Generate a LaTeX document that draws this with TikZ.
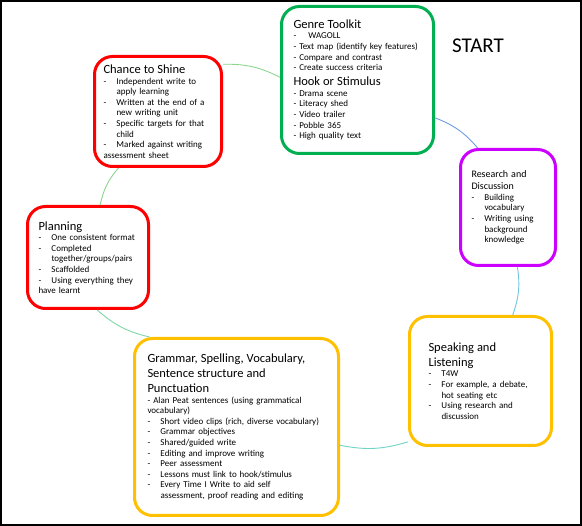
\documentclass[tikz,border=0pt]{standalone}
\usepackage{fontspec}
\setmainfont{Carlito}
\usetikzlibrary{positioning}

\definecolor{kgreen}{HTML}{00B050}
\definecolor{kred}{HTML}{FF0000}
\definecolor{kmagenta}{HTML}{CC00FF}
\definecolor{korange}{HTML}{FFC000}
\definecolor{cgreen}{HTML}{8ED48E}
\definecolor{cmint}{HTML}{7ED6A6}
\definecolor{cteal}{HTML}{6FD3C4}
\definecolor{ccyan}{HTML}{72C6E4}
\definecolor{cblue}{HTML}{6C9BE2}

%% one line of a box, and a bullet line with hanging indent
\newcommand{\pl}[1]{\par\noindent #1\par}
\newcommand{\itm}[1]{\par\hangindent=13pt\hangafter=1\noindent\makebox[13pt][l]{-}#1\par}
%% box headings
\newcommand{\ttl}[1]{{\fontsize{12.5}{15}\selectfont #1\par}}
\newcommand{\sttl}[1]{{\fontsize{10}{12}\selectfont #1\par}}

\begin{document}
\begin{tikzpicture}[
  x=1pt, y=-1pt,
  stage/.style={draw, line width=3pt, fill=white, rounded corners=18pt,
                align=left, inner ysep=0pt,
                font=\fontsize{9}{10.6}\selectfont},
  link/.style={line width=0.9pt, bend left=14},
]
  \useasboundingbox (0,0) rectangle (582,526);
  \draw[line width=2pt] (1,1) rectangle (581,525);

  %% Stage boxes
  \node[stage, draw=kgreen, minimum width=152pt, minimum height=147pt,
        text width=128pt, inner xsep=12pt] (genre) at (357.5,80) {%
    \ttl{Genre Toolkit}
    \itm{\hspace*{2pt}WAGOLL}
    \pl{- Text map (identify key features)}
    \pl{- Compare and contrast}
    \pl{- Create success criteria}
    \ttl{Hook or Stimulus}
    \pl{- Drama scene}
    \pl{- Literacy shed}
    \pl{- Video trailer}
    \pl{- Pobble 365}
    \pl{- High quality text}};

  \node[stage, draw=kred, minimum width=127pt, minimum height=110pt,
        text width=109pt, inner xsep=9pt] (chance) at (158,111.5) {%
    \ttl{Chance to Shine}
    \itm{Independent write to\newline apply learning}
    \itm{Written at the end of a\newline new writing unit}
    \itm{Specific targets for that\newline child}
    \itm{Marked against writing}
    \pl{assessment sheet}};

  \node[stage, draw=kred, minimum width=121pt, minimum height=102pt,
        text width=99pt, inner xsep=11pt] (planning) at (88,257.5) {%
    \ttl{Planning}
    \itm{One consistent format}
    \itm{Completed\newline together/groups/pairs}
    \itm{Scaffolded}
    \itm{Using everything they}
    \pl{have learnt}};

  \node[stage, draw=kmagenta, minimum width=95pt, minimum height=116pt,
        text width=73pt, inner xsep=11pt] (research) at (508,207.5) {%
    \sttl{Research and\\Discussion}
    \itm{Building\newline vocabulary}
    \itm{Writing using\newline background\newline knowledge}};

  \node[stage, draw=korange, minimum width=142pt, minimum height=129pt,
        text width=104pt, inner xsep=19pt] (speaking) at (480.5,381) {%
    \ttl{Speaking and\\Listening}
    \itm{T4W}
    \itm{For example, a debate,\newline hot seating etc}
    \itm{Using research and\newline discussion}};

  \node[stage, draw=korange, minimum width=204pt, minimum height=177pt,
        text width=178pt, inner xsep=13pt] (grammar) at (236.5,427) {%
    \ttl{Grammar, Spelling, Vocabulary,\\Sentence structure and\\Punctuation}
    \pl{- Alan Peat sentences (using grammatical\\vocabulary)}
    \itm{Short video clips (rich, diverse vocabulary)}
    \itm{Grammar objectives}
    \itm{Shared/guided write}
    \itm{Editing and improve writing}
    \itm{Peer assessment}
    \itm{Lessons must link to hook/stimulus}
    \itm{Every Time I Write to aid self\newline assessment, proof reading and editing}};

  \node[font=\fontsize{21}{21}\selectfont] (start) at (478,46) {START};

  %% Cycle arcs
  \draw[link, cblue] (genre.-26) to (research.117);
  \draw[link, ccyan] (research.-81) to (speaking.64);
  \draw[link, cteal] (speaking.220) to (grammar.-10);
  \draw[link, cmint] (grammar.134) to (planning.-80);
  \draw[link, cgreen] (planning.77) to (chance.235);
  \draw[link, cgreen] (chance.36) to (genre.178);
\end{tikzpicture}
\end{document}
